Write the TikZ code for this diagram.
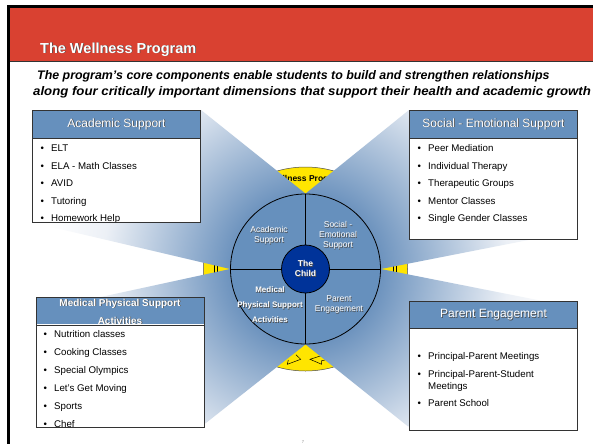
\documentclass[tikz,border=0pt]{standalone}
\usepackage{fontspec}
\usepackage{graphicx}
\setmainfont{Liberation Sans}
\usetikzlibrary{calc}

\pgfdeclarelayer{under}
\pgfdeclarelayer{beams}
\pgfsetlayers{under,beams,main}

\definecolor{bannerred}{HTML}{D94131}
\definecolor{steel}{HTML}{6690BD}
\definecolor{childblue}{HTML}{003399}
\definecolor{halo}{HTML}{FFE500}
\definecolor{beamlight}{HTML}{ECF0F6}
\definecolor{beamdark}{HTML}{6D93BE}

% glow that fades outwards from the wheel (the filled square's half-size 260pt maps to 25bp)
\pgfdeclareradialshading{beamglow}{\pgfpoint{0bp}{0bp}}{%
  color(0bp)=(beamdark); color(7.2bp)=(beamdark); color(19.5bp)=(beamlight); color(25bp)=(white); color(50bp)=(white)}

% white lettering with a small dark drop shadow
\newcommand\embossed[1]{\leavevmode\rlap{\hspace{0.7pt}\raisebox{-0.7pt}{\textcolor{black!70}{#1}}}#1}

\tikzset{
  hdr/.style={draw=black!80, line width=1pt, fill=steel, text=white,
    minimum width=168pt, anchor=north west, inner sep=0pt, align=center,
    font=\fontsize{12}{14}\selectfont},
  bodybox/.style={fill=white, minimum width=168pt, anchor=north west, inner sep=0pt},
  boxline/.style={draw=black!80, line width=1pt},
  item/.style={anchor=base west, inner sep=0pt, font=\fontsize{9.7}{11.6}\selectfont},
  ringtext/.style={text=white, align=center, inner sep=0pt, font=\fontsize{8.5}{10}\selectfont},
  stripe/.style={line width=0.6pt},
}

\newcommand\bul{\makebox[10.7pt][l]{•}}

\begin{document}
\begin{tikzpicture}[x=1pt, y=-1pt]
\useasboundingbox (0,0) rectangle (593,444);

% page background, yellow halo behind the wheel
\begin{pgfonlayer}{under}
  \fill[white] (0,0) rectangle (593,444);
  \node[circle, fill=halo, draw=black!70, line width=0.5pt, minimum size=204pt, inner sep=0pt] (halo) at (305.5,269) {};
  \node[font=\bfseries\fontsize{8.5}{10}\selectfont, inner sep=0pt] (halolabel) at (307,179) {Wellness Program};
  \draw[stripe] (214,260) -- (214,278);
  \draw[stripe] (217.5,260) -- (217.5,278);
  \draw[stripe] (393,260) -- (393,278);
  \draw[stripe] (396.5,260) -- (396.5,278);
  \draw[line width=0.5pt] (288.3,360) -- (287.3,364.3) -- (300.7,359.3) -- (296,354.7);
  \draw[line width=0.5pt] (323.3,355) -- (310,359.3) -- (321.7,364.3) -- (321.7,360.7) -- (325,360);
\end{pgfonlayer}

% banner and frame
\fill[bannerred] (10,8) rectangle (593,61.5);
\fill[black] (7,5) rectangle (593,8);
\fill[black] (7,5) rectangle (10,444);
\draw[black!80, line width=1pt] (10,61.5) -- (593,61.5);
\node[anchor=base west, inner sep=0pt, text=white,
      font=\bfseries\fontsize{14.5}{17}\selectfont] (title) at (40,53) {\embossed{The Wellness Program}};
\node[anchor=base west, inner sep=0pt, font=\bfseries\itshape\fontsize{12.4}{15}\selectfont] (sub1) at (37,79)
  {The program’s core components enable students to build and strengthen relationships};
\node[anchor=base west, inner sep=0pt, font=\bfseries\itshape\fontsize{12.4}{15}\selectfont] (sub2) at (33,95)
  {\scalebox{1.065}[1]{along four critically important dimensions that support their health and academic growth}};

% the wheel
\node[circle, draw=black, line width=0.8pt, fill=steel, minimum size=150pt, inner sep=0pt] (ring) at (305.5,269) {};
\draw[line width=0.8pt] (ring.north) -- (ring.south);
\draw[line width=0.8pt] (ring.west) -- (ring.east);
\node[circle, fill=childblue, draw=black, line width=0.8pt, minimum size=48pt, inner sep=0pt,
      text=white, align=center, font=\bfseries\fontsize{8.5}{10}\selectfont] (child) at (ring.center)
      {\embossed{The}\\\embossed{Child}};
\node[ringtext] (qacad) at (269,236) {\embossed{Academic}\\\embossed{Support}};
\node[ringtext] (qsoc) at (338,236) {\embossed{Social -}\\\embossed{Emotional}\\\embossed{Support}};
\node[ringtext, font=\bfseries\fontsize{8}{15}\selectfont] (qmed) at (270,305) {\embossed{Medical}\\\embossed{Physical Support}\\\embossed{Activities}};
\node[ringtext] (qpar) at (339,305) {\embossed{Parent}\\\embossed{Engagement}};

% Academic Support
\node[bodybox, minimum height=84pt] (acadB) at (32,138) {};
\foreach \t [count=\i] in {ELT, ELA - Math Classes, AVID, Tutoring, Homework Help}
  \node[item] (acad\i) at (40.3,{151.5+17.5*(\i-1)}) {\bul\t};
\draw[boxline] (acadB.north west) rectangle (acadB.south east);
\node[hdr, minimum height=28pt] (acadH) at (32,110) {\embossed{Academic Support}};

% Social - Emotional Support
\node[bodybox, minimum height=101pt] (socB) at (409,138) {};
\foreach \t [count=\i] in {Peer Mediation, Individual Therapy, Therapeutic Groups, Mentor Classes, Single Gender Classes}
  \node[item] (soc\i) at (417.3,{151.5+17.5*(\i-1)}) {\bul\t};
\draw[boxline] (socB.north west) rectangle (socB.south east);
\node[hdr, minimum height=28pt] (socH) at (409,110) {\embossed{Social - Emotional Support}};

% Medical Physical Support Activities (second title line runs under the body)
\node[hdr, minimum height=27pt, font=\bfseries\fontsize{10}{18}\selectfont] (medH) at (36,297) {};
\node[text=white, align=center, inner sep=0pt, font=\bfseries\fontsize{10}{18}\selectfont] (medT) at (120,312)
  {\embossed{Medical Physical Support}\\\embossed{Activities}};
\node[bodybox, minimum height=103pt] (medB) at (36,324) {};
\foreach \t [count=\i] in {Nutrition classes, Cooking Classes, Special Olympics, Let’s Get Moving, Sports, Chef}
  \node[item] (med\i) at (43.3,{337.5+18*(\i-1)}) {\bul\t};
\draw[boxline] (medH.north west) rectangle (medB.south east);
\draw[boxline] (medH.south west) -- (medH.south east);

% Parent Engagement
\node[bodybox, minimum height=102pt] (parB) at (409,328) {};
\node[item] (par1) at (417.3,359.5) {\bul Principal-Parent Meetings};
\node[item] (par2) at (417.3,377.5) {\bul Principal-Parent-Student};
\node[item] (par2b) at (428,389.5) {Meetings};
\node[item] (par3) at (417.3,406.5) {\bul Parent School};
\draw[boxline] (parB.north west) rectangle (parB.south east);
\node[hdr, minimum height=27pt] (parH) at (409,301) {\embossed{Parent Engagement}};

% light beams joining each box to its quarter of the wheel
\begin{pgfonlayer}{beams}
  \begin{scope}
    \clip (acadH.north east) -- (ring.north) -- (ring.center) -- (ring.west)
      -- (acadB.south west) -- (acadH.north west) -- cycle
      (socH.north west) -- (ring.north) -- (ring.center) -- (ring.east)
      -- ($(socB.south east)+(0,-9)$) -- (socH.north east) -- cycle
      (ring.west) -- (ring.center) -- (ring.south)
      -- ($(medB.south east)+(1,-4)$) -- (medB.south west) -- (medH.west) -- cycle
      (ring.east) -- (ring.center) -- (ring.south)
      -- ($(parB.south west)+(-1,-4)$) -- (parB.south east) -- ($(parH.north east)+(0,7)$) -- cycle;
    \shade[shading=beamglow] ($(ring.center)+(-260,-260)$) rectangle ($(ring.center)+(260,260)$);
  \end{scope}
\end{pgfonlayer}

\node[text=black!50, inner sep=0pt, font=\fontsize{4}{5}\selectfont] (pageno) at (303,442) {7};
\end{tikzpicture}
\end{document}
